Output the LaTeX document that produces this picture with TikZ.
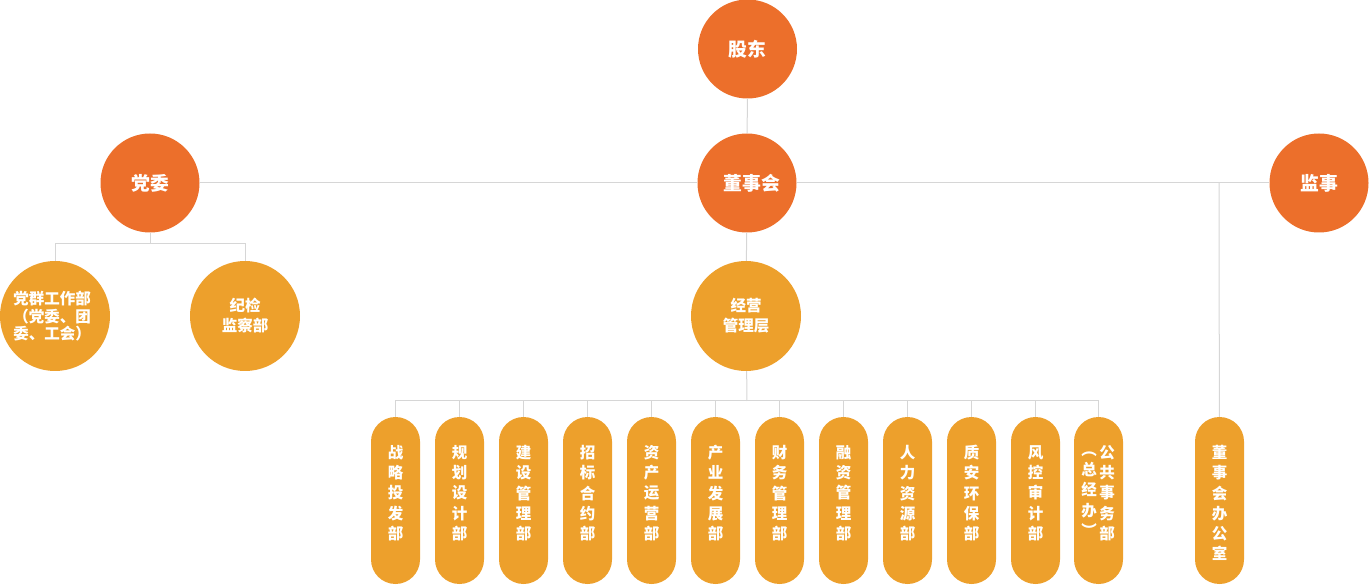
\documentclass[tikz,border=0pt]{standalone}
\usepackage{fontspec}
\setmainfont{Noto Sans CJK SC}
\definecolor{darkor}{HTML}{EC6F2B}
\definecolor{lightor}{HTML}{EDA02C}
\definecolor{linegray}{HTML}{D6D6D6}
\newcommand\tp{\rule{0pt}{13pt}}
\begin{document}
\begin{tikzpicture}[x=1pt,y=-1pt,
  bigc/.style={circle, fill=darkor, minimum size=99pt, inner sep=0pt, text=white, font=\fontsize{18.8}{22}\selectfont\bfseries},
  midc/.style={circle, fill=lightor, minimum size=110pt, inner sep=0pt, text=white, align=center, font=\fontsize{15.5}{20}\selectfont\bfseries},
  pillbox/.style={rectangle, rounded corners=24.5pt, fill=lightor, minimum width=49pt, minimum height=167pt, inner sep=0pt},
  ptext/.style={text=white, align=center, anchor=north, inner sep=0pt, font=\fontsize{15.5}{20.3}\selectfont\bfseries},
  conn/.style={draw=linegray, line width=1pt}]
\useasboundingbox (0,0) rectangle (1369,585);

\coordinate (dwbus) at (150,244);
\coordinate (bus) at (747,401);
\coordinate (jsb) at (1219,183);

\node[bigc] (gd) at (747.5,49) {股东};
\node[bigc] (dsh) at (747,183) {};
\node[text=white, inner sep=0pt, font=\fontsize{18.8}{22}\selectfont\bfseries] (dsht) at (752,183) {董事会};
\node[bigc] (dw) at (150,183) {党委};
\node[bigc] (js) at (1319,183) {监事};
\node[midc] (jy) at (746,316) {经营\\管理层};
\node[midc] (dq) at (55,316) {};
\node[text=white, align=left, inner sep=0pt, font=\fontsize{15.5}{17.5}\selectfont\bfseries] (dqt) at (52,316.5) {党群工作部\\（党委、团\\委、工会）};
\node[midc] (jj) at (245,316) {纪检\\监察部};

\foreach \i/\t in {0/{战\\略\\投\\发\\部},1/{规\\划\\设\\计\\部},2/{建\\设\\管\\理\\部},3/{招\\标\\合\\约\\部},4/{资\\产\\运\\营\\部},5/{产\\业\\发\\展\\部},6/{财\\务\\管\\理\\部},7/{融\\资\\管\\理\\部},8/{人\\力\\资\\源\\部},9/{质\\安\\环\\保\\部},10/{风\\控\\审\\计\\部}}{
  \node[pillbox] (p\i) at (395.5+64*\i,500.5) {};
  \node[ptext] (t\i) at (395.5+64*\i,445) {\tp\t};
}
\node[pillbox] (p11) at (1098.5,500.5) {};
\node[ptext] (t11a) at (1107,445) {\tp 公\\共\\事\\务\\部};
\node[ptext] (t11b) at (1089,442) {\tp ︵\\总\\经\\办\\︶};
\node[pillbox] (pds) at (1219.5,500.5) {};
\node[ptext] (tds) at (1219.5,445) {\tp 董\\事\\会\\办\\公\\室};

\draw[conn] (gd) -- (dsh);
\draw[conn] (dw) -- (dsh);
\draw[conn] (dsh) -- (js);
\draw[conn] (dsh) -- (jy);
\draw[conn] (dw) -- (dwbus);
\draw[conn] (dwbus) -| (dq);
\draw[conn] (dwbus) -| (jj);
\draw[conn] (jy) -- (bus);
\foreach \i in {0,...,11}{\draw[conn] (bus) -| (p\i);}
\draw[conn] (jsb) -- (pds);
\end{tikzpicture}
\end{document}
